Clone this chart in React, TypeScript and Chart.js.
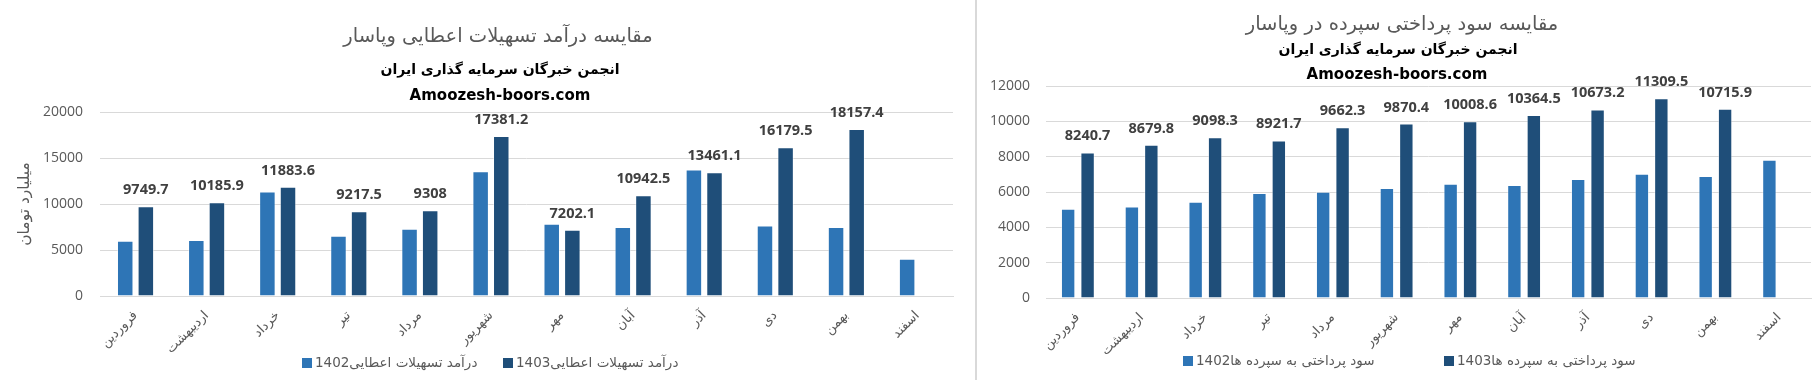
import React, { useEffect, useRef } from 'react';
import { Chart, registerables } from 'chart.js';

Chart.register(...registerables);

// ---------- data ----------
const months = ['فروردین', 'اردیبهشت', 'خرداد', 'تیر', 'مرداد', 'شهریور', 'مهر', 'آبان', 'آذر', 'دی', 'بهمن', 'اسفند'];

const loanIncome1402 = [6000, 6100, 11370, 6550, 7300, 13550, 7850, 7500, 13750, 7650, 7500, 4050];
const loanIncome1403 = [9749.7, 10185.9, 11883.6, 9217.5, 9308, 17381.2, 7202.1, 10942.5, 13461.1, 16179.5, 18157.4, null];
const loanTicks = [0, 5000, 10000, 15000, 20000];

const deposit1402 = [5050, 5180, 5450, 5950, 6010, 6230, 6460, 6400, 6740, 7030, 6910, 7820];
const deposit1403 = [8240.7, 8679.8, 9098.3, 8921.7, 9662.3, 9870.4, 10008.6, 10364.5, 10673.2, 11309.5, 10715.9, null];
const depositTicks = [0, 2000, 4000, 6000, 8000, 10000, 12000];

const loanTitle = 'مقایسه درآمد تسهیلات اعطایی وپاسار';
const depositTitle = 'مقایسه سود پرداختی سپرده در وپاسار';
const subtitleText = 'انجمن خبرگان سرمایه گذاری ایران';
const siteText = 'Amoozesh-boors.com';
const loanAxisTitle = 'میلیارد تومان';
const loanSeriesNames = ['درآمد تسهیلات اعطایی1402', 'درآمد تسهیلات اعطایی1403'];
const depositSeriesNames = ['سود پرداختی به سپرده ها1402', 'سود پرداختی به سپرده ها1403'];

// ---------- styles ----------
const LIGHT = '#2E75B6';
const DARK = '#1F4E79';
const GRID = '#D9D9D9';
const GRAY = '#595959';
const FA = "'DejaVu Sans', sans-serif";
const NUM = "'Open Sans', sans-serif";

// ---------- plugins ----------
const headerPlugin = {
  id: 'header',
  afterDraw(chart: any, _args: any, opts: any) {
    const ctx = chart.ctx;
    (opts.lines || []).forEach((l: any) => {
      ctx.save();
      ctx.font = l.font;
      ctx.fillStyle = l.color;
      ctx.textAlign = 'center';
      ctx.textBaseline = 'middle';
      ctx.fillText(l.text, l.x, l.y);
      ctx.restore();
    });
  },
};

const valueLabelPlugin = {
  id: 'valueLabels',
  afterDatasetsDraw(chart: any, _args: any, opts: any) {
    const ctx = chart.ctx;
    const idx = opts.datasetIndex;
    const meta = chart.getDatasetMeta(idx);
    const ds = chart.data.datasets[idx];
    ctx.save();
    ctx.font = opts.font;
    ctx.fillStyle = opts.color;
    ctx.textAlign = 'center';
    ctx.textBaseline = 'alphabetic';
    meta.data.forEach((bar: any, i: number) => {
      const v = ds.data[i];
      if (v === null || v === undefined) return;
      ctx.fillText(String(v), bar.x, bar.y - opts.offset);
    });
    ctx.restore();
  },
};

const legendPlugin = {
  id: 'sideLegend',
  afterDraw(chart: any, _args: any, opts: any) {
    const ctx = chart.ctx;
    chart.data.datasets.forEach((ds: any, i: number) => {
      const pos = opts.items[i];
      if (!pos) return;
      ctx.save();
      ctx.fillStyle = ds.backgroundColor;
      ctx.fillRect(pos.x, pos.y - 5, 10, 10);
      ctx.font = opts.font;
      ctx.fillStyle = opts.color;
      ctx.textAlign = 'left';
      ctx.textBaseline = 'middle';
      ctx.fillText(ds.label, pos.x + 13, pos.y);
      ctx.restore();
    });
  },
};

function makeConfig(p: any) {
  return {
    type: 'bar',
    data: {
      labels: months,
      datasets: [
        {
          label: p.names[0],
          data: p.a,
          backgroundColor: LIGHT,
          borderColor: 'rgba(255,255,255,0.45)',
          borderWidth: { left: 1, right: 1, top: 1, bottom: 0 },
          borderSkipped: false,
          categoryPercentage: p.catPct,
          barPercentage: p.barPct,
        },
        {
          label: p.names[1],
          data: p.b,
          backgroundColor: DARK,
          borderColor: 'rgba(255,255,255,0.45)',
          borderWidth: { left: 1, right: 1, top: 1, bottom: 0 },
          borderSkipped: false,
          categoryPercentage: p.catPct,
          barPercentage: p.barPct,
        },
      ],
    },
    options: {
      responsive: false,
      maintainAspectRatio: false,
      animation: false,
      devicePixelRatio: 1,
      layout: { padding: p.padding },
      plugins: {
        legend: { display: false },
        title: { display: false },
        tooltip: { enabled: false },
        header: { lines: p.header },
        valueLabels: {
          datasetIndex: 1,
          font: `bold 14.5px ${NUM}`,
          color: '#404040',
          offset: 12,
        },
        sideLegend: { items: p.legendPos, font: `13.5px ${FA}`, color: GRAY },
      },
      scales: {
        x: {
          grid: { display: false, drawTicks: false },
          border: { display: true, color: GRID, width: 1 },
          ticks: {
            color: GRAY,
            font: { family: FA, size: 13 },
            minRotation: 45,
            maxRotation: 45,
            autoSkip: false,
            padding: 12,
          },
          afterFit: (s: any) => {
            s.height = p.xHeight;
          },
        },
        y: {
          min: p.ticks[0],
          max: p.ticks[p.ticks.length - 1],
          grid: { color: GRID, drawTicks: false },
          border: { display: false },
          ticks: {
            stepSize: p.ticks[1] - p.ticks[0],
            color: GRAY,
            font: { family: NUM, size: 14 },
            padding: p.yPad,
            callback: (v: any) => String(v),
          },
          title: p.yTitle
            ? {
                display: true,
                text: p.yTitle,
                color: GRAY,
                font: { family: FA, size: 15.5 },
                padding: { top: 16, bottom: 0 },
              }
            : { display: false },
          afterFit: (s: any) => {
            s.width = p.yWidth;
          },
        },
      },
    },
    plugins: [headerPlugin, valueLabelPlugin, legendPlugin],
  };
}

export default function App() {
  const leftRef = useRef<HTMLCanvasElement>(null);
  const rightRef = useRef<HTMLCanvasElement>(null);

  useEffect(() => {
    const left = new Chart(
      leftRef.current as HTMLCanvasElement,
      makeConfig({
        names: loanSeriesNames,
        a: loanIncome1402,
        b: loanIncome1403,
        ticks: loanTicks,
        catPct: 0.58,
        barPct: 0.8,
        padding: { top: 112, right: 22, bottom: 20, left: 0 },
        xHeight: 64,
        yWidth: 100,
        yPad: 17,
        yTitle: loanAxisTitle,
        header: [
          { text: loanTitle, x: 498, y: 37, font: `19.5px ${FA}`, color: GRAY },
          { text: subtitleText, x: 500, y: 70, font: `bold 14px ${FA}`, color: '#000' },
          { text: siteText, x: 500, y: 96, font: `bold 15px ${FA}`, color: '#000' },
        ],
        legendPos: [
          { x: 302, y: 363 },
          { x: 503, y: 363 },
        ],
      }) as any
    );
    const right = new Chart(
      rightRef.current as HTMLCanvasElement,
      makeConfig({
        names: depositSeriesNames,
        a: deposit1402,
        b: deposit1403,
        ticks: depositTicks,
        catPct: 0.61,
        barPct: 0.74,
        padding: { top: 86, right: 6, bottom: 18, left: 0 },
        xHeight: 64,
        yWidth: 69,
        yPad: 16,
        yTitle: null,
        header: [
          { text: depositTitle, x: 425, y: 25, font: `19.5px ${FA}`, color: GRAY },
          { text: subtitleText, x: 421, y: 50, font: `bold 14px ${FA}`, color: '#000' },
          { text: siteText, x: 420, y: 75, font: `bold 15px ${FA}`, color: '#000' },
        ],
        legendPos: [
          { x: 206, y: 361 },
          { x: 467, y: 361 },
        ],
      }) as any
    );
    return () => {
      left.destroy();
      right.destroy();
    };
  }, []);

  return (
    <div
      style={{
        position: 'absolute',
        left: 0,
        top: 0,
        width: 1817,
        height: 380,
        display: 'flex',
        background: '#fff',
      }}
    >
      <canvas ref={leftRef} width={975} height={380} style={{ display: 'block', width: 975, height: 380 }} />
      <div style={{ width: 2, height: 380, background: GRID }} />
      <canvas ref={rightRef} width={840} height={380} style={{ display: 'block', width: 840, height: 380 }} />
    </div>
  );
}
